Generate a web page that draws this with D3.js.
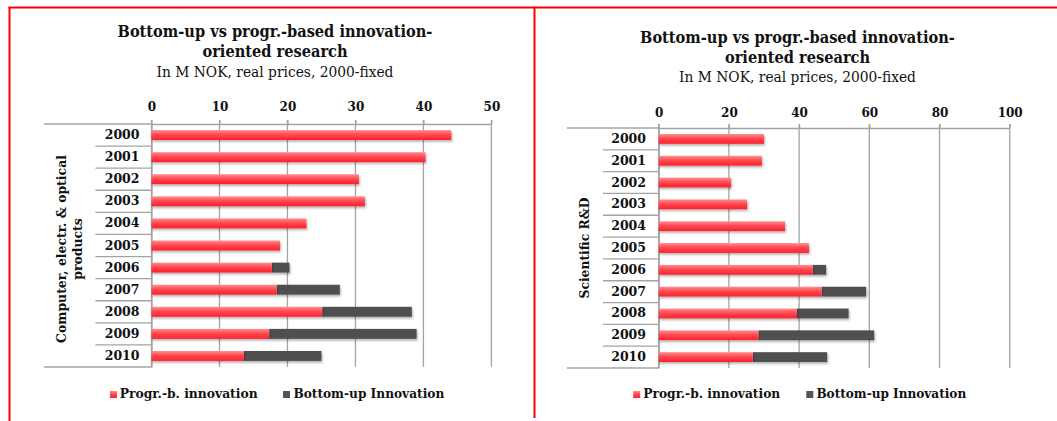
<!DOCTYPE html>
<html><head><meta charset="utf-8">
<script src="https://cdn.jsdelivr.net/npm/d3@7"></script>
<style>
body{margin:0;background:#fff}
svg{display:block}
text{font-family:'DejaVu Serif',serif;fill:#111}
.cond{font-family:'DejaVu Serif Condensed','DejaVu Serif',serif;font-stretch:condensed}
</style>
</head><body>
<svg id="c" width="1057" height="421"></svg>
<script>
// ---- data ----
const years = ["2000","2001","2002","2003","2004","2005","2006","2007","2008","2009","2010"];
const computerProgr    = [44.1, 40.3, 30.5, 31.4, 22.8, 18.9, 17.7, 18.4, 25.1, 17.3, 13.6];
const computerBottomUp = [0, 0, 0, 0, 0, 0, 2.6, 9.3, 13.2, 21.7, 11.4];
const sciProgr         = [30.0, 29.4, 20.6, 25.2, 36.0, 42.8, 43.9, 46.4, 39.4, 28.4, 26.8];
const sciBottomUp      = [0, 0, 0, 0, 0, 0, 3.8, 12.7, 14.7, 33.0, 21.2];
const computerTicks = [0, 10, 20, 30, 40, 50];
const sciTicks      = [0, 20, 40, 60, 80, 100];
const seriesNames = ["Progr.-b. innovation", "Bottom-up Innovation"];
const titleLines = ["Bottom-up vs progr.-based innovation-", "oriented research"];
const subtitle = "In M NOK, real prices, 2000-fixed";
const computerGroup = ["Computer, electr. & optical", "products"];
const sciGroup = ["Scientific R&D"];

// ---- setup ----
const svg = d3.select("#c");
const defs = svg.append("defs");
const grad = defs.append("linearGradient").attr("id","redGrad").attr("x1",0).attr("y1",0).attr("x2",0).attr("y2",1);
grad.append("stop").attr("offset","0%").attr("stop-color","#ff8d90");
grad.append("stop").attr("offset","45%").attr("stop-color","#ff4a52");
grad.append("stop").attr("offset","100%").attr("stop-color","#ff1e2c");
const filt = defs.append("filter").attr("id","shadow").attr("x","-5%").attr("y","-30%").attr("width","115%").attr("height","190%");
filt.append("feDropShadow").attr("dx",1).attr("dy",1.8).attr("stdDeviation",1.1).attr("flood-color","#000").attr("flood-opacity",0.3);

const GRID = "#a3a3a3";

function fitFont(sel, target, node) {
  const fs = parseFloat(sel.attr("font-size"));
  const w = (node || sel.node()).getComputedTextLength();
  const nfs = fs * target / w;
  sel.attr("font-size", nfs);
  return nfs;
}

function drawChart(cfg) {
  const g = svg.append("g");
  const rows = years.map((yr, i) => ({year: yr, progr: cfg.progr[i], bottom: cfg.bottom[i]}));
  const stack = d3.stack().keys(["progr","bottom"])(rows);

  const x = d3.scaleLinear().domain([0, d3.max(cfg.ticks)]).range([cfg.x0, cfg.x1]);
  const y = d3.scaleBand().domain(years).range([cfg.top, cfg.bot]).paddingInner(0.55).paddingOuter(0.275);

  // title
  const t1 = g.append("text").attr("class","cond").attr("x", cfg.titleX).attr("y", cfg.titleY[0]).attr("text-anchor","middle")
    .attr("font-weight","bold").attr("font-size",14).text(titleLines[0]);
  const tfs = fitFont(t1, 315);
  g.append("text").attr("class","cond").attr("x", cfg.titleX).attr("y", cfg.titleY[1]).attr("text-anchor","middle")
    .attr("font-weight","bold").attr("font-size",tfs).text(titleLines[1]);
  const st = g.append("text").attr("class","cond").attr("x", cfg.titleX).attr("y", cfg.titleY[2]).attr("text-anchor","middle")
    .attr("font-size",13).text(subtitle);
  fitFont(st, 237);

  // gridlines
  g.selectAll("line.grid").data(cfg.ticks).join("line").attr("class","grid")
    .attr("x1", d => x(d)).attr("x2", d => x(d))
    .attr("y1", cfg.top - 4).attr("y2", cfg.bot)
    .attr("stroke", GRID).attr("stroke-width", 1.3);

  // value axis (top)
  const ax = g.append("g").attr("transform", `translate(0,${cfg.top})`)
    .call(d3.axisTop(x).tickValues(cfg.ticks).tickSize(4).tickSizeOuter(0).tickPadding(cfg.tickPad));
  ax.select(".domain").attr("stroke", GRID).attr("stroke-width",1.3);
  ax.selectAll(".tick line").attr("stroke", GRID).attr("stroke-width",1.3);
  ax.selectAll(".tick text").attr("font-family","'DejaVu Serif',serif").attr("font-weight","bold")
    .attr("font-size",12).attr("fill","#111");

  // category separators
  const step = y.step();
  const bounds = d3.range(years.length + 1).map(i => cfg.top + i * step);
  g.selectAll("line.sep").data(bounds).join("line").attr("class","sep")
    .attr("x1", (d,i) => (i === 0 || i === years.length) ? cfg.catLeft : cfg.sepLeft)
    .attr("x2", cfg.x0).attr("y1", d => d).attr("y2", d => d)
    .attr("stroke", GRID).attr("stroke-width",1.3);

  // category axis
  const cy = g.append("g").attr("transform", `translate(${cfg.x0},0)`)
    .call(d3.axisLeft(y).tickSize(0).tickSizeOuter(0).tickPadding(cfg.labelPad));
  cy.select(".domain").attr("stroke", GRID).attr("stroke-width",1.3);
  cy.selectAll(".tick text").attr("font-family","'DejaVu Serif',serif").attr("font-weight","bold")
    .attr("font-size",12.5).attr("fill","#111");

  // bars
  const fills = ["url(#redGrad)", "#505050"];
  g.selectAll("g.series").data(stack.slice().reverse()).join("g").attr("class","series")
    .attr("fill", d => fills[d.index]).attr("filter","url(#shadow)")
    .selectAll("rect").data(d => d.filter(s => s[1] - s[0] > 0)).join("rect")
    .attr("x", d => x(d[0])).attr("width", d => x(d[1]) - x(d[0]))
    .attr("y", d => y(d.data.year)).attr("height", y.bandwidth());

  // group label
  const gl = g.append("text").attr("class","cond").attr("transform", `translate(${cfg.groupX},${cfg.groupY}) rotate(-90)`)
    .attr("text-anchor","middle").attr("font-weight","bold").attr("font-size",13);
  const spans = cfg.group.map((line, i) =>
    gl.append("tspan").attr("x",0).attr("dy", i === 0 ? (-(cfg.group.length - 1) * 0.6 + 0.35) + "em" : "1.2em").text(line));
  fitFont(gl, cfg.groupLen, spans[0].node());

  // legend
  const colors = ["url(#redGrad)", "#555"];
  cfg.legend.forEach((lx, i) => {
    g.append("rect").attr("x", lx[0]).attr("y", cfg.legendY - 7).attr("width",7).attr("height",7).attr("fill", colors[i]);
    const lt = g.append("text").attr("class","cond").attr("x", lx[1]).attr("y", cfg.legendY).attr("font-weight","bold")
      .attr("font-size",12.5).text(seriesNames[i]);
    fitFont(lt, lx[2]);
  });
}

drawChart({
  progr: computerProgr, bottom: computerBottomUp, ticks: computerTicks, group: computerGroup, groupLen: 188,
  x0: 151.5, x1: 491.4, top: 124, bot: 367, catLeft: 44, sepLeft: 95.4, labelPad: 12, tickPad: 9,
  titleX: 275, titleY: [37, 56.5, 77], groupX: 69, groupY: 249,
  legendY: 398, legend: [[110, 119.8, 138], [283, 293.4, 151]]
});
drawChart({
  progr: sciProgr, bottom: sciBottomUp, ticks: sciTicks, group: sciGroup, groupLen: 101,
  x0: 658.7, x1: 1009.7, top: 128, bot: 368, catLeft: 567, sepLeft: 603, labelPad: 12.7, tickPad: 7.5,
  titleX: 797.5, titleY: [43, 62.5, 81.5], groupX: 584, groupY: 248,
  legendY: 398, legend: [[633.2, 643.3, 137], [806.3, 816.4, 150]]
});

// frame
const frame = svg.append("g").attr("stroke","#ff0000").attr("stroke-width",2);
frame.append("line").attr("x1",8.5).attr("x2",1057).attr("y1",7.5).attr("y2",7.5);
frame.append("line").attr("x1",9.5).attr("x2",9.5).attr("y1",7).attr("y2",421);
frame.append("line").attr("x1",534.5).attr("x2",534.5).attr("y1",7).attr("y2",418);
</script>
</body></html>
